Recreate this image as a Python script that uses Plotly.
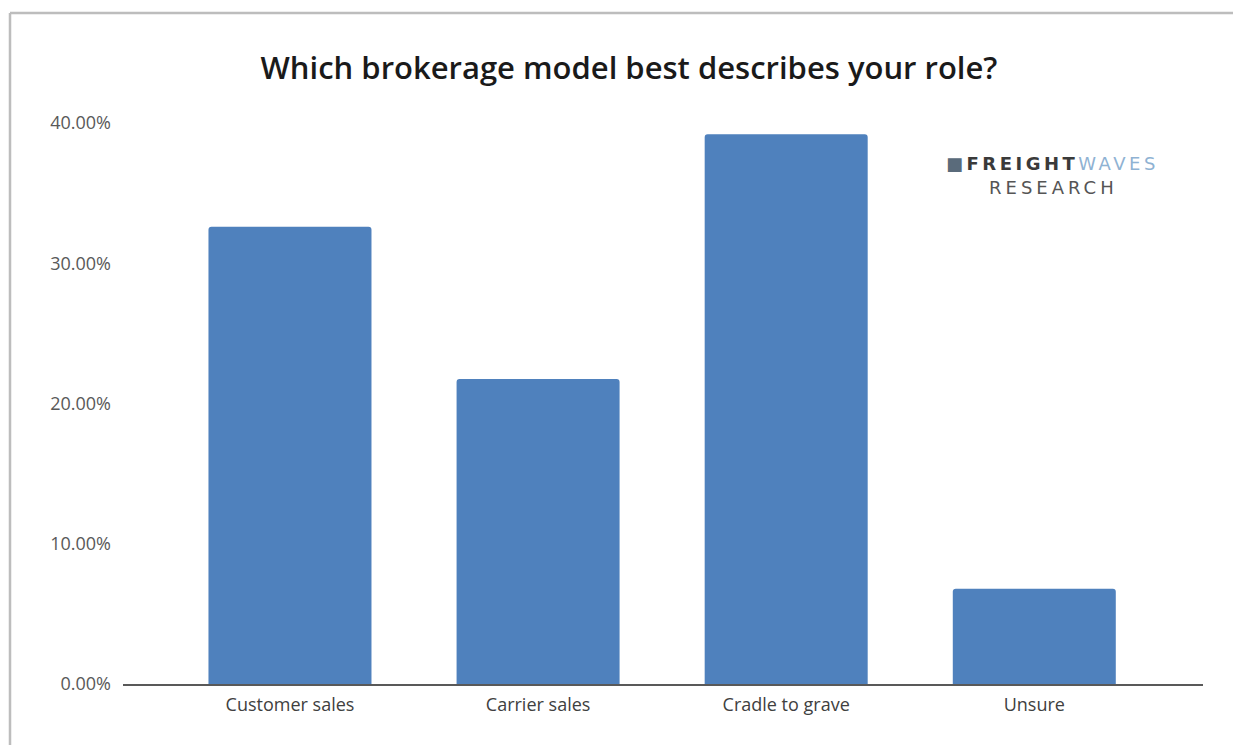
import plotly.graph_objects as go

categories = ["Customer sales", "Carrier sales", "Cradle to grave", "Unsure"]
shares = [0.326, 0.2175, 0.392, 0.068]
tick_values = [0, 0.10, 0.20, 0.30, 0.40]
tick_labels = ["0.00%", "10.00%", "20.00%", "30.00%", "40.00%"]

W, H = 1233, 745
ML, MR, MT, MB = 123, 30, 123, 61
PW, PH = W - ML - MR, H - MT - MB


def px_x(px):
    return (px - ML) / PW


def px_y(py):
    return (H - MB - py) / PH


fig = go.Figure(
    go.Bar(
        x=categories,
        y=shares,
        marker=dict(color="#4F81BD", cornerradius=3, line=dict(width=0)),
        width=0.657,
    )
)

fig.update_layout(
    width=W,
    height=H,
    margin=dict(l=ML, r=MR, t=MT, b=MB),
    paper_bgcolor="white",
    plot_bgcolor="white",
    showlegend=False,
    font=dict(family="Open Sans, sans-serif", color="#595959", size=16),
    title=dict(
        text="Which brokerage model best describes your role?",
        x=629 / W,
        xanchor="center",
        y=1 - 68 / H,
        yanchor="middle",
        font=dict(family="Open Sans, sans-serif", size=31, color="#1a1a1a", weight=600),
    ),
)

fig.update_xaxes(
    range=[-0.673, 3.68],
    showline=True,
    linecolor="#595959",
    linewidth=1.5,
    ticks="",
    showgrid=False,
    ticklabelstandoff=4,
    tickfont=dict(size=18, color="#404040"),
)
fig.update_yaxes(
    range=[0, 0.40],
    tickvals=tick_values,
    ticktext=tick_labels,
    showgrid=False,
    zeroline=False,
    showline=False,
    ticks="",
    ticklabelstandoff=11,
    tickfont=dict(size=18, color="#595959"),
)

# Outer frame: left and top edges of the chart border
fig.add_shape(
    type="line", xref="paper", yref="paper",
    x0=px_x(10), x1=px_x(10), y0=px_y(H + 5), y1=px_y(13),
    line=dict(color="#BDBDBD", width=2.5),
)
fig.add_shape(
    type="line", xref="paper", yref="paper",
    x0=px_x(10), x1=px_x(W + 5), y0=px_y(13), y1=px_y(13),
    line=dict(color="#BDBDBD", width=2.5),
)

# FreightWaves Research logo
fig.add_annotation(
    xref="paper", yref="paper",
    x=px_x(1052), y=px_y(163),
    xanchor="center", yanchor="middle", showarrow=False,
    text=(
        "<span style='letter-spacing:3.5px'>"
        "<span style='color:#5a6b7b'>■</span>"
        "<b><span style='color:#3a3a3a'>FREIGHT</span></b>"
        "<span style='color:#8fb2d3'>WAVES</span>"
        "</span>"
    ),
    font=dict(family="DejaVu Sans, sans-serif", size=18),
)
fig.add_annotation(
    xref="paper", yref="paper",
    x=px_x(1053), y=px_y(187),
    xanchor="center", yanchor="middle", showarrow=False,
    text="<span style='letter-spacing:4px'>RESEARCH</span>",
    font=dict(family="DejaVu Sans, sans-serif", size=18, color="#555555"),
)

fig.write_html("out.html")
